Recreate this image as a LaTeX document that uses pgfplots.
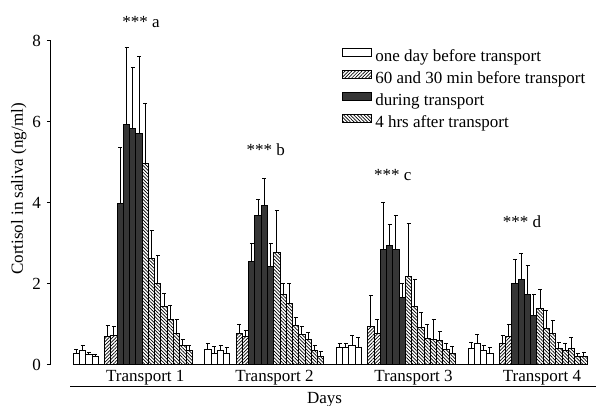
\documentclass[border=0pt]{standalone}
\usepackage{fontspec}
\setmainfont{Liberation Serif}
\usepackage{pgfplots}
\pgfplotsset{compat=1.18}
\usetikzlibrary{patterns.meta}
\definecolor{darkbar}{HTML}{363636}

% one table per series: x = slot, y = mean, e = upper error
\pgfplotstableread{
x  y    e
0  0.29 0.09
1  0.35 0.14
2  0.25 0.07
3  0.20 0.07
21 0.37 0.15
22 0.29 0.16
23 0.35 0.14
24 0.29 0.15
42 0.43 0.11
43 0.42 0.12
44 0.49 0.23
45 0.43 0.25
63 0.41 0.14
64 0.52 0.22
65 0.35 0.13
66 0.29 0.14
}\before
\pgfplotstableread{
x  y    e
5  0.70 0.28
6  0.73 0.22
26 0.77 0.24
27 0.70 0.14
47 0.96 0.75
48 0.77 0.36
68 0.52 0.20
69 0.70 0.31
}\sixty
\pgfplotstableread{
x  y    e
7  3.99 1.38
8  5.94 1.89
9  5.83 1.51
10 5.71 1.89
28 2.55 0.44
29 3.68 0.41
30 3.93 0.68
31 2.44 0.56
49 2.86 1.14
50 2.94 0.53
51 2.86 0.83
52 1.67 0.35
70 2.02 0.59
71 2.12 0.64
72 1.73 0.72
73 1.23 0.50
}\during
\pgfplotstableread{
x  y    e
11 4.98 1.46
12 2.63 0.68
13 2.02 0.67
14 1.44 0.33
15 1.13 0.35
16 0.78 0.33
17 0.49 0.13
18 0.35 0.12
32 2.77 1.04
33 1.75 0.25
34 1.51 0.49
35 0.98 0.18
36 0.74 0.20
37 0.63 0.17
38 0.35 0.12
39 0.22 0.11
53 2.18 1.32
54 1.44 0.66
55 0.93 0.36
56 0.66 0.33
57 0.63 0.48
58 0.60 0.22
59 0.37 0.17
60 0.29 0.16
74 1.40 0.47
75 0.89 0.45
76 0.78 0.31
77 0.41 0.15
78 0.35 0.17
79 0.41 0.27
80 0.20 0.09
81 0.20 0.10
}\after

\begin{document}
\fontsize{8.5}{10}\selectfont
\begin{tikzpicture}
\useasboundingbox (-25.35pt,-20.5pt) rectangle (272.65pt,182.5pt);
\begin{axis}[
  at={(0,0)}, anchor=south west,
  scale only axis,
  width=272.6pt, height=162.15pt,
  xmin=-4.1, xmax=82.9,
  ymin=0, ymax=8,
  axis x line=none,
  axis y line*=left,
  ytick={0,2,4,6,8},
  tick align=outside,
  major tick length=1.9pt,
  tick style={black, line width=0.5pt},
  axis line style={black, line width=0.5pt},
  /pgf/number format/assume math mode=true,
  ticklabel style={font=\fontsize{8.5}{10}\selectfont},
  clip=false,
  bar width=1,
  every axis plot/.append style={line width=0.5pt},
  error bars/y dir=plus,
  error bars/y explicit,
  error bars/error bar style={black, line width=0.5pt},
  error bars/error mark options={black, line width=0.5pt, mark size=1pt, rotate=90},
  legend cell align=left,
  legend image code/.code={\draw[#1, line width=0.5pt] (0pt,0.7pt) rectangle (14.5pt,4.85pt);},
  legend style={
    at={(rel axis cs:0.533,0.98)}, anchor=north west,
    draw=none, fill=none, inner sep=0pt,
    font=\fontsize{8.5}{10}\selectfont,
    nodes={inner sep=0.8pt, text height=6pt, text depth=2pt},
    row sep=1.1pt, column sep=1pt,
  },
]
\addplot[ybar, bar shift=0pt, draw=black, fill=white]
  table[x=x, y=y, y error=e] {\before};
\addlegendentry{one day before transport}
\addplot[ybar, bar shift=0pt, draw=black,
  pattern={Lines[angle=45, distance=1.2pt, line width=0.35pt]}]
  table[x=x, y=y, y error=e] {\sixty};
\addlegendentry{60 and 30 min before transport}
\addplot[ybar, bar shift=0pt, draw=black, fill=darkbar]
  table[x=x, y=y, y error=e] {\during};
\addlegendentry{during transport}
\addplot[ybar, bar shift=0pt, draw=black,
  pattern={Lines[angle=-45, distance=1.2pt, line width=0.35pt]}]
  table[x=x, y=y, y error=e] {\after};
\addlegendentry{4 hrs after transport}

% baseline under the bars
\addplot[black, line width=0.5pt, forget plot, no markers] coordinates {(-0.5,0) (81.5,0)};
\draw[black, line width=0.5pt] ([yshift=-10.85pt]axis cs:-1,0) -- ([yshift=-10.85pt]axis cs:82.9,0);

\node[yshift=-6.35pt] at (axis cs:11.0,0) {Transport 1};
\node[yshift=-6.35pt] at (axis cs:31.6,0) {Transport 2};
\node[yshift=-6.35pt] at (axis cs:53.8,0) {Transport 3};
\node[yshift=-6.35pt] at (axis cs:74.3,0) {Transport 4};
\node[yshift=-17.5pt] at (axis cs:39.6,0) {Days};

\node at (axis cs:10.3,8.46) {*** a};
\node at (axis cs:30.2,5.30) {*** b};
\node at (axis cs:50.5,4.69) {*** c};
\node at (axis cs:71.1,3.53) {*** d};
\end{axis}
\node[rotate=90] at (-16pt,88pt) {Cortisol in saliva (ng/ml)};
\end{tikzpicture}
\end{document}
